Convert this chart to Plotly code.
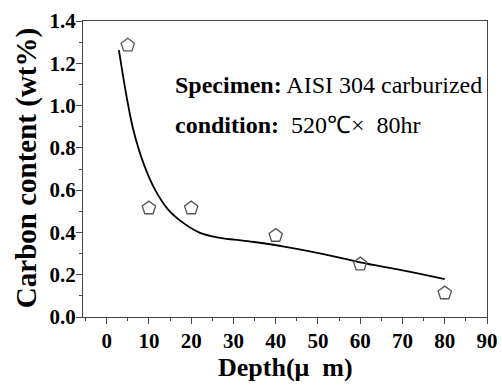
import plotly.graph_objects as go

# measured data
depth = [5, 10, 20, 40, 60, 80]
carbon = [1.285, 0.515, 0.515, 0.385, 0.25, 0.113]

# fitted curve
fit_x = [2.9, 4.7, 6.3, 8.7, 11.5, 14.6, 18.2, 22.1, 26.1, 34, 42, 54, 60, 70, 80]
fit_y = [1.262, 1.044, 0.886, 0.728, 0.60, 0.507, 0.444, 0.398, 0.377, 0.357, 0.333, 0.286, 0.258, 0.22, 0.179]

x_ticks = [0, 10, 20, 30, 40, 50, 60, 70, 80, 90]
y_ticks = [0.0, 0.2, 0.4, 0.6, 0.8, 1.0, 1.2, 1.4]

FONT = "Liberation Serif"

fig = go.Figure()
fig.add_trace(go.Scatter(x=fit_x, y=fit_y, mode="lines",
                         line=dict(color="black", width=1.8, shape="spline", smoothing=1.0),
                         showlegend=False))
fig.add_trace(go.Scatter(x=depth, y=carbon, mode="markers",
                         marker=dict(symbol="pentagon-open", size=14, color="#555555",
                                     line=dict(width=1.3)),
                         showlegend=False))

fig.add_annotation(x=0.223, y=0.784, xref="paper", yref="paper", xanchor="left", yanchor="middle",
                   text="<b>Specimen:</b> AISI 304 carburized", showarrow=False,
                   font=dict(family=FONT, size=24, color="black"))
fig.add_annotation(x=0.223, y=0.649, xref="paper", yref="paper", xanchor="left", yanchor="middle",
                   text="<b>condition:</b>  520℃×  80hr", showarrow=False,
                   font=dict(family=FONT, size=24, color="black"))

# axis titles
fig.add_annotation(x=0.5, y=-0.172, xref="paper", yref="paper", xanchor="center", yanchor="middle",
                   text="<b>Depth(μ  m)</b>", showarrow=False,
                   font=dict(family=FONT, size=26, color="black"))
fig.add_annotation(x=-0.141, y=0.503, xref="paper", yref="paper", xanchor="center", yanchor="middle",
                   text="<b>Carbon content (wt%)</b>", showarrow=False, textangle=-90,
                   font=dict(family=FONT, size=29, color="black"))

axis_common = dict(showline=True, linecolor="#444444", linewidth=1, mirror=True, automargin=False,
                   ticks="outside", tickcolor="#444444", ticklen=6, showgrid=False, zeroline=False,
                   tickfont=dict(family=FONT, size=21, color="black", weight="bold"))

fig.update_xaxes(range=[-5.6, 90], tickvals=x_ticks, ticktext=[str(v) for v in x_ticks],
                 minor=dict(ticks="outside", ticklen=3, dtick=5, tick0=0, tickcolor="#444444"),
                 ticklabelstandoff=-1,
                 **axis_common)
fig.update_yaxes(range=[0, 1.4], tickvals=y_ticks, ticktext=[f"{v:.1f}" for v in y_ticks],
                 minor=dict(ticks="outside", ticklen=3, dtick=0.1, tick0=0, tickcolor="#444444"),
                 ticklabelstandoff=-4,
                 **axis_common)

fig.update_layout(width=502, height=385, margin=dict(l=83, r=15, t=21, b=68),
                  plot_bgcolor="white", paper_bgcolor="white")

# remove the browser's default body margin so the figure fills the window exactly
fig.write_html("out.html", config={"displayModeBar": False},
               post_script="document.body.style.margin='0';document.body.style.overflow='hidden';")
